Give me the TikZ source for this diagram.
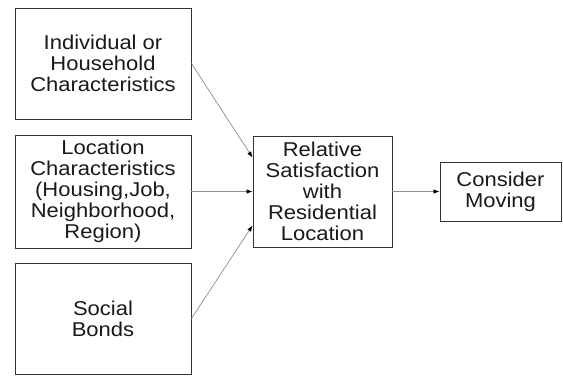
\documentclass[tikz,border=0pt]{standalone}
\usepackage{fontspec}
\setmainfont[FakeStretch=1.1]{Liberation Sans}
\usetikzlibrary{arrows.meta}
\begin{document}
\begin{tikzpicture}[x=1pt,y=-1pt,
  box/.style={draw=black!80,line width=0.9pt,align=center,inner sep=2pt,
    font=\fontsize{20}{21}\selectfont,text=black!90},
  conn/.style={draw=black!45,line width=0.7pt,-{Latex[length=6pt,width=4.5pt,color=black]}}]
\useasboundingbox (0,0) rectangle (563,376);
\node[box,minimum width=176pt,minimum height=111pt] (b1) at (103,63.5) {Individual or\\Household\\Characteristics};
\node[box,minimum width=176pt,minimum height=113pt] (b2) at (103,191.5) {Location\\Characteristics\\(Housing,Job,\\Neighborhood,\\Region)};
\node[box,minimum width=176pt,minimum height=111pt] (b3) at (103,318.5) {Social\\Bonds};
\node[box,minimum width=139pt,minimum height=111pt] (mid) at (322.5,191.5) {Relative\\Satisfaction\\with\\Residential\\Location};
\node[box,minimum width=121pt,minimum height=59pt] (cm) at (500.5,191.5) {Consider\\Moving};
\draw[conn] (b1.east) -- ([yshift=34pt]mid.west);
\draw[conn] (b2.east) -- (mid.west);
\draw[conn] (b3.east) -- ([yshift=-34pt]mid.west);
\draw[conn] (mid.east) -- (cm.west);
\end{tikzpicture}
\end{document}
